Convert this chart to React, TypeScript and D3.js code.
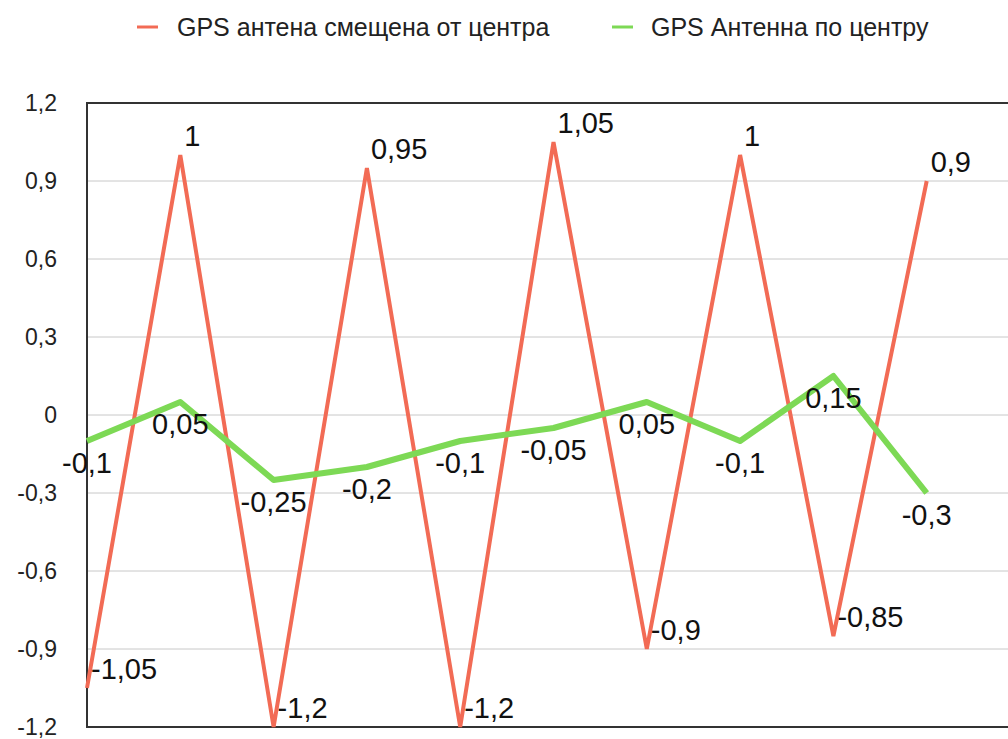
import React from 'react';
import * as d3 from 'd3';

const points = [0, 1, 2, 3, 4, 5, 6, 7, 8, 9];
const offsetSeries = [-1.05, 1, -1.2, 0.95, -1.2, 1.05, -0.9, 1, -0.85, 0.9];
const centerSeries = [-0.1, 0.05, -0.25, -0.2, -0.1, -0.05, 0.05, -0.1, 0.15, -0.3];
const yTicks = [-1.2, -0.9, -0.6, -0.3, 0, 0.3, 0.6, 0.9, 1.2];
const seriesNames = ['GPS антена смещена от центра', 'GPS Антенна по центру'];

const RED = '#f26b55';
const GREEN = '#7dd955';
const FONT = '"Liberation Sans", Arial, Helvetica, sans-serif';

const fmt = (v: number) => String(v).replace('.', ',');

const App: React.FC = () => {
  const width = 1008;
  const height = 739;
  const margin = { left: 87, top: 103 };
  const plotBottom = 727;
  const plotRight = 1020;

  const x = d3.scaleLinear().domain([0, 10]).range([margin.left, plotRight]);
  const y = d3.scaleLinear().domain([-1.2, 1.2]).range([plotBottom, margin.top]);

  const line = d3
    .line<number>()
    .x((_, i) => x(points[i]))
    .y(d => y(d));

  return (
    <svg
      width={width}
      height={height}
      style={{ position: 'absolute', left: 0, top: 0, background: '#fff' }}
      fontFamily={FONT}
    >
      {/* legend */}
      <g>
        <line x1={137} x2={158} y1={27} y2={27} stroke={RED} strokeWidth={3} />
        <text x={177} y={27} dy="0.35em" fontSize={25} fill="#222">
          {seriesNames[0]}
        </text>
        <line x1={612} x2={633} y1={27} y2={27} stroke={GREEN} strokeWidth={3} />
        <text x={651} y={27} dy="0.35em" fontSize={25} fill="#222">
          {seriesNames[1]}
        </text>
      </g>

      {/* grid */}
      {yTicks.map(t => (
        <g key={t}>
          <line x1={margin.left} x2={plotRight} y1={y(t)} y2={y(t)} stroke="#c8c8c8" strokeWidth={1} />
          <text x={57} y={y(t)} dy="0.35em" textAnchor="end" fontSize={23} fill="#222">
            {fmt(t)}
          </text>
        </g>
      ))}

      {/* frame */}
      <path
        d={`M${plotRight},${margin.top}H${margin.left}V${plotBottom}H${plotRight}`}
        fill="none"
        stroke="#333"
        strokeWidth={2}
      />

      {/* series */}
      <path d={line(offsetSeries) || ''} fill="none" stroke={RED} strokeWidth={4} strokeLinejoin="miter" />
      <path d={line(centerSeries) || ''} fill="none" stroke={GREEN} strokeWidth={6} strokeLinejoin="round" />

      {/* labels */}
      {offsetSeries.map((v, i) => (
        <text key={'r' + i} x={x(points[i]) + 4} y={y(v) - 9} fontSize={29} fill="#111">
          {fmt(v)}
        </text>
      ))}
      {centerSeries.map((v, i) => (
        <text key={'g' + i} x={x(points[i])} y={y(v) + 32} textAnchor="middle" fontSize={29} fill="#111">
          {fmt(v)}
        </text>
      ))}
    </svg>
  );
};

export default App;
